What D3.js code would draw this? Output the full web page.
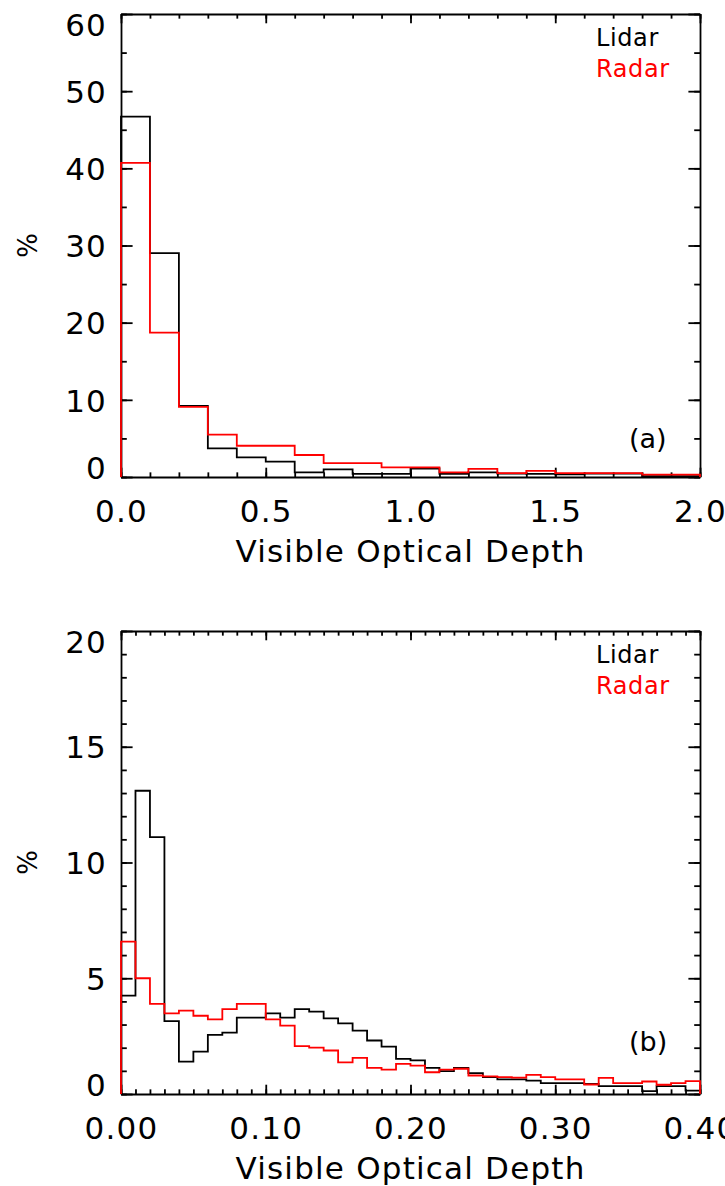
<!DOCTYPE html>
<html>
<head>
<meta charset="utf-8">
<script src="https://cdn.jsdelivr.net/npm/d3@7"></script>
<style>
  html, body { margin: 0; padding: 0; background: #fff; }
  svg { display: block; font-family: "DejaVu Sans", sans-serif; }
</style>
</head>
<body>
<svg id="chart" width="725" height="1186"></svg>
<script>

// Panel (a): percentage per 0.1 wide optical depth bin, 0.0 - 2.0

const binWidthA = 0.1;
const lidarA = [46.7, 29.0, 9.2, 3.7, 2.55, 2.0, 0.6, 1.0, 0.4, 0.4,
  1.1, 0.4, 0.6, 0.45, 0.4, 0.35, 0.45, 0.45, 0.1, 0.1];
const radarA = [40.7, 18.7, 9.1, 5.5, 4.05, 4.05, 2.85, 1.8, 1.8, 1.25,
  1.25, 0.6, 1.05, 0.5, 0.8, 0.5, 0.5, 0.5, 0.3, 0.3];
const xTicksA = [0, 0.5, 1.0, 1.5, 2.0];
const yTicksA = [0, 10, 20, 30, 40, 50, 60];

// Panel (b): percentage per 0.01 wide optical depth bin, 0.00 - 0.40

const binWidthB = 0.01;
const lidarB = [4.25, 13.1, 11.1, 3.15, 1.4, 1.83, 2.55, 2.65, 3.3, 3.3,
  3.48, 3.3, 3.67, 3.56, 3.27, 3.05, 2.74, 2.31, 2.05, 1.52,
  1.45, 1.13, 0.99, 1.13, 0.9, 0.73, 0.63, 0.63, 0.58, 0.47,
  0.47, 0.47, 0.44, 0.34, 0.34, 0.34, 0.12, 0.34, 0.34, 0.15];
const radarB = [6.58, 5.0, 3.89, 3.48, 3.6, 3.38, 3.22, 3.67, 3.89, 3.89,
  3.22, 2.95, 2.07, 2.0, 1.88, 1.37, 1.56, 1.13, 1.05, 1.3,
  1.23, 0.94, 1.05, 1.09, 0.8, 0.76, 0.73, 0.71, 0.83, 0.73,
  0.63, 0.63, 0.41, 0.7, 0.47, 0.47, 0.54, 0.4, 0.47, 0.56];
const xTicksB = [0, 0.1, 0.2, 0.3, 0.4];
const yTicksB = [0, 5, 10, 15, 20];

const seriesNames = ["Lidar", "Radar"];
const seriesColors = ["#000000", "#ff0000"];
const xTitle = "Visible Optical Depth";
const yTitle = "%";

const svg = d3.select("#chart");

/**
 * Draw one histogram panel with a full IDL style box of inward ticks
 * @param cfg - layout and data of the panel
 */
function drawPanel(cfg) {

  const left = 121, right = 700;
  const top = cfg.top, bottom = cfg.top + 463;
  const xMax = cfg.xTicks[cfg.xTicks.length - 1];
  const yMax = cfg.yTicks[cfg.yTicks.length - 1];

  const x = d3.scaleLinear().domain([cfg.xTicks[0], xMax]).range([left, right]);
  const y = d3.scaleLinear().domain([cfg.yTicks[0], yMax]).range([bottom, top]);

  const xMinor = d3.range(0, xMax + cfg.xMinor / 2, cfg.xMinor);
  const yMinor = d3.range(0, yMax + cfg.yMinor / 2, cfg.yMinor);

  // tick lengths follow IDL: a fraction of the plot size

  const xLen = 9.3, yLen = 11.6;

  const g = svg.append("g");

  const sides = [
    {axis: d3.axisBottom, scale: x, pos: [0, bottom], len: xLen, major: cfg.xTicks, minor: xMinor, fmt: cfg.xFormat, pad: 23},
    {axis: d3.axisTop, scale: x, pos: [0, top], len: xLen, major: cfg.xTicks, minor: xMinor, fmt: null},
    {axis: d3.axisLeft, scale: y, pos: [left, 0], len: yLen, major: cfg.yTicks, minor: yMinor, fmt: d3.format("d"), pad: 14},
    {axis: d3.axisRight, scale: y, pos: [right, 0], len: yLen, major: cfg.yTicks, minor: yMinor, fmt: null}
  ];

  sides.forEach((s) => {

    const minorAxis = g.append("g")
      .attr("transform", "translate(" + s.pos[0] + "," + s.pos[1] + ")")
      .call(s.axis(s.scale).tickValues(s.minor).tickSize(-s.len / 2).tickFormat(""));
    minorAxis.select(".domain").remove();

    const majorAxis = g.append("g")
      .attr("transform", "translate(" + s.pos[0] + "," + s.pos[1] + ")")
      .call(s.axis(s.scale)
        .tickValues(s.major)
        .tickSize(-s.len)
        .tickSizeOuter(0)
        .tickPadding(s.pad || 0)
        .tickFormat(s.fmt || ""));

    // the axis call sets its own font, so override it afterwards
    majorAxis
      .attr("font-family", null)
      .attr("font-size", 31);

    majorAxis.selectAll("text")
      .attr("fill", "#000")
      .attr("letter-spacing", 1.2);

    if (s.axis === d3.axisLeft) {

      // the end labels are pulled inside the box
      majorAxis.selectAll(".tick text")
        .attr("dy", (d) => d === yMax ? "0.68em" : (d === 0 ? "0.04em" : "0.36em"));
    }
  });

  g.selectAll(".domain, .tick line")
    .attr("stroke", "#000")
    .attr("stroke-width", 1.8);

  // step histograms, lidar first so radar lies on top

  const line = d3.line()
    .x((d) => x(d[0]))
    .y((d) => y(d[1]))
    .curve(d3.curveStepAfter);

  cfg.series.forEach((values, k) => {

    const n = values.length;
    const pts = [[0, 0]]
      .concat(values.map((v, i) => [i * cfg.binWidth, v]))
      .concat([[n * cfg.binWidth, values[n - 1]], [n * cfg.binWidth, 0]]);

    g.append("path")
      .attr("d", line(pts))
      .attr("fill", "none")
      .attr("stroke", seriesColors[k])
      .attr("stroke-width", 1.8);
  });

  // legend

  seriesNames.forEach((name, k) => {

    g.append("text")
      .attr("x", right - 104)
      .attr("y", top + 32 + k * 31)
      .attr("font-size", 24)
      .attr("letter-spacing", 0.6)
      .attr("fill", seriesColors[k])
      .text(name);
  });

  g.append("text")
    .attr("x", right - 71)
    .attr("y", bottom - cfg.tagOffset)
    .attr("font-size", 27)
    .text(cfg.tag);

  g.append("text")
    .attr("x", (left + right) / 2)
    .attr("y", bottom + 85)
    .attr("text-anchor", "middle")
    .attr("font-size", 31)
    .attr("letter-spacing", 1.2)
    .text(xTitle);

  g.append("text")
    .attr("transform", "translate(28," + (top + bottom) / 2 + ") rotate(-90)")
    .attr("text-anchor", "middle")
    .attr("dy", "0.35em")
    .attr("font-size", 26)
    .text(yTitle);
}

drawPanel({
  top: 14, tag: "(a)", tagOffset: 29,
  binWidth: binWidthA, series: [lidarA, radarA],
  xTicks: xTicksA, yTicks: yTicksA, xMinor: 0.1, yMinor: 5,
  xFormat: d3.format(".1f")
});

drawPanel({
  top: 631, tag: "(b)", tagOffset: 43,
  binWidth: binWidthB, series: [lidarB, radarB],
  xTicks: xTicksB, yTicks: yTicksB, xMinor: 0.01, yMinor: 1,
  xFormat: d3.format(".2f")
});

</script>
</body>
</html>
